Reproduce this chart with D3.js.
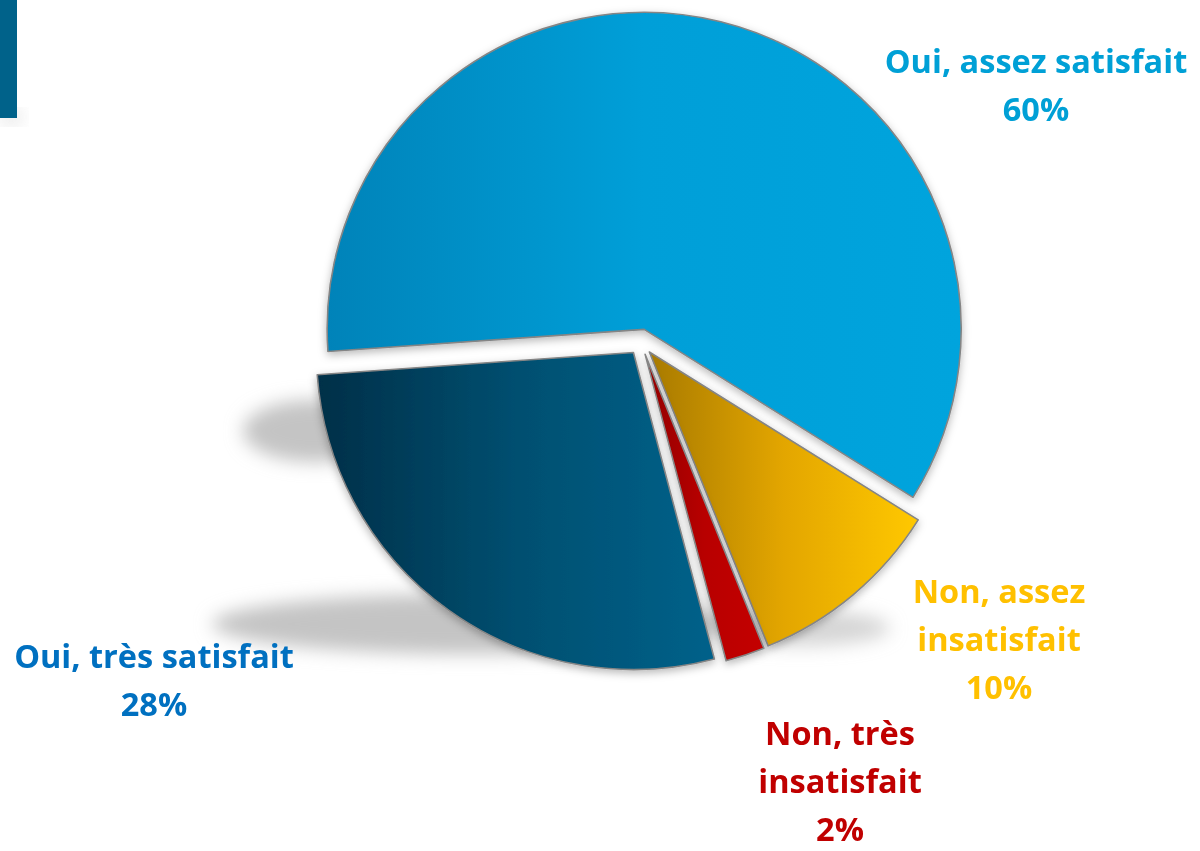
<!DOCTYPE html>
<html>
<head>
<meta charset="utf-8">
<script src="https://cdn.jsdelivr.net/npm/d3@7"></script>
<style>
    html, body { margin: 0; padding: 0; background: #fff; }
    svg { display: block; }
    .lbl { font-family: "Open Sans", Lato, sans-serif; font-weight: 700; }
</style>
</head>
<body>
<svg id="chart" width="1200" height="851"></svg>
<script>
// data
var categories = ["Oui, assez satisfait", "Non, assez insatisfait", "Non, très insatisfait", "Oui, très satisfait"];
var values = [60, 10, 2, 28];
var labelLines = [
    ["Oui, assez satisfait"],
    ["Non, assez", "insatisfait"],
    ["Non, très", "insatisfait"],
    ["Oui, très satisfait"]
];

// looks
var gradStops = [
    ["#0083b9", "#009fd8", "#00a4dd"],
    ["#a87a00", "#e3a600", "#ffc800"],
    ["#920000", "#b80000", "#c40000"],
    ["#002f48", "#004f70", "#00618a"]
];
var labelColors = ["#00a0d6", "#ffc000", "#c00000", "#0070c0"];
var labelPos = [[1036, 73], [999, 603], [840, 745], [154, 668]];

var W = 1200, H = 851;
var cx = 641, cy = 342, R = 317, explode = 13;
var lineH = 48;

var svg = d3.select("#chart");
var defs = svg.append("defs");

defs.append("filter").attr("id", "blur").attr("x", "-50%").attr("y", "-50%").attr("width", "200%").attr("height", "200%")
    .append("feGaussianBlur").attr("stdDeviation", 9);

var ds = defs.append("filter").attr("id", "soft").attr("x", "-20%").attr("y", "-20%").attr("width", "140%").attr("height", "140%");
ds.append("feDropShadow").attr("dx", 0).attr("dy", 3).attr("stdDeviation", 4)
    .attr("flood-color", "#000").attr("flood-opacity", 0.28);

gradStops.forEach(function (s, i) {
    var g = defs.append("linearGradient").attr("id", "g" + i)
        .attr("x1", "0%").attr("x2", "100%").attr("y1", "0%").attr("y2", "0%");
    g.append("stop").attr("offset", "0%").attr("stop-color", s[0]);
    g.append("stop").attr("offset", "50%").attr("stop-color", s[1]);
    g.append("stop").attr("offset", "100%").attr("stop-color", s[2]);
});

// little bar top-left
svg.append("rect").attr("x", 2).attr("y", 112).attr("width", 18).attr("height", 10)
    .attr("fill", "#bbb").attr("filter", "url(#blur)").attr("opacity", 0.6);
svg.append("rect").attr("x", 0).attr("y", 0).attr("width", 17).attr("height", 118).attr("fill", "#00628a");

// floor shadow of the pie (decorative)
var shadow = svg.append("g").attr("filter", "url(#blur)").attr("fill", "#c4c4c4");
shadow.append("ellipse").attr("cx", 315).attr("cy", 431).attr("rx", 72).attr("ry", 31);
shadow.append("ellipse").attr("cx", 470).attr("cy", 624).attr("rx", 258).attr("ry", 30);
shadow.append("ellipse").attr("cx", 800).attr("cy", 628).attr("rx", 90).attr("ry", 18).attr("opacity", 0.7);

var a0 = -94 * Math.PI / 180;
var pie = d3.pie().sort(null).startAngle(a0).endAngle(a0 + 2 * Math.PI);
var arcs = pie(values);
var arc = d3.arc().innerRadius(0).outerRadius(R);

var slices = svg.append("g").attr("transform", "translate(" + cx + "," + cy + ")");

slices.selectAll("path")
    .data(arcs)
    .enter().append("path")
    .attr("transform", function (d) {
        var m = (d.startAngle + d.endAngle) / 2;
        return "translate(" + (Math.sin(m) * explode) + "," + (-Math.cos(m) * explode) + ")";
    })
    .attr("d", arc)
    .attr("fill", function (d, i) { return "url(#g" + i + ")"; })
    .attr("stroke", "#858585")
    .attr("stroke-width", 1.6)
    .attr("stroke-linejoin", "round")
    .attr("filter", "url(#soft)");

// labels
var lbl = svg.append("g");
arcs.forEach(function (d, i) {
    var lines = labelLines[i].concat([values[i] + "%"]);
    var t = lbl.append("text").attr("class", "lbl")
        .attr("text-anchor", "middle")
        .attr("font-size", 32.5)
        .attr("fill", labelColors[i]);
    lines.forEach(function (s, k) {
        t.append("tspan").attr("x", labelPos[i][0]).attr("y", labelPos[i][1] + k * lineH).text(s);
    });
});
</script>
</body>
</html>
